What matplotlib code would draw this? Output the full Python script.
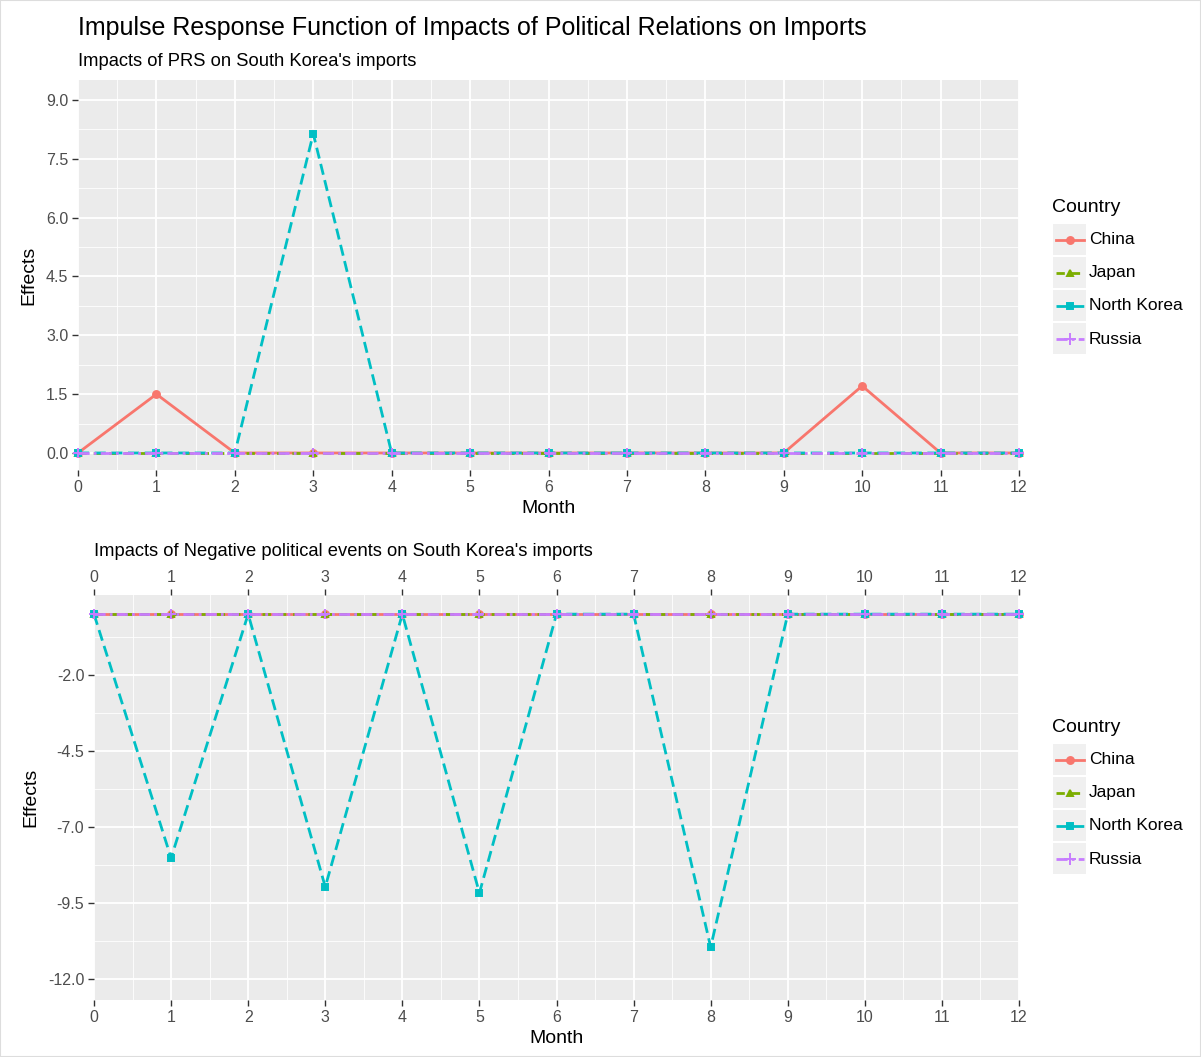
import matplotlib
matplotlib.use("Agg")
import matplotlib.pyplot as plt
from matplotlib.patches import Rectangle
from matplotlib.lines import Line2D
import numpy as np

plt.rcParams['font.family'] = ['Liberation Sans', 'DejaVu Sans']

months = list(range(13))
countries = ["China", "Japan", "North Korea", "Russia"]

# effects of PRS (top panel)
prs_china = [0, 1.5, 0, 0, 0, 0, 0, 0, 0, 0, 1.71, 0, 0]
prs_japan = [0] * 13
prs_nkorea = [0, 0, 0, 8.14, 0, 0, 0, 0, 0, 0, 0, 0, 0]
prs_russia = [0] * 13

# effects of negative political events (bottom panel)
neg_china = [0] * 13
neg_japan = [0] * 13
neg_nkorea = [0, -8.02, 0, -8.97, 0, -9.17, 0, 0, -10.95, 0, 0, 0, 0]
neg_russia = [0] * 13

top_ticks = [0.0, 1.5, 3.0, 4.5, 6.0, 7.5, 9.0]
bot_ticks = [-12.0, -9.5, -7.0, -4.5, -2.0]

colors = {"China": "#F8766D", "Japan": "#7CAE00", "North Korea": "#00BFC4", "Russia": "#C77CFF"}
styles = {"China": "-", "Japan": (0, (3, 2.5)), "North Korea": (0, (4, 2)), "Russia": (0, (4, 1.5, 1, 1.5))}
markers = {"China": "o", "Japan": "^", "North Korea": "s", "Russia": "+"}

GREY_BG = "#EBEBEB"
TXT = "#4D4D4D"

fig = plt.figure(figsize=(12.01, 10.57), dpi=100)
W, H = 1201, 1057


def px_axes(l, t, r, b):
    return fig.add_axes([l / W, (H - b) / H, (r - l) / W, (b - t) / H])


def style_axes(ax, yticks, ylim, minor_y):
    ax.set_facecolor(GREY_BG)
    ax.set_xlim(0, 12)
    ax.set_ylim(*ylim)
    ax.set_xticks(months)
    ax.set_xticks(np.arange(0.5, 12, 1), minor=True)
    ax.set_yticks(yticks)
    ax.set_yticks(minor_y, minor=True)
    ax.set_yticklabels(["%.1f" % v for v in yticks])
    ax.grid(which="major", color="white", linewidth=1.3)
    ax.grid(which="minor", color="white", linewidth=0.6)
    ax.set_axisbelow(True)
    for s in ax.spines.values():
        s.set_visible(False)
    ax.tick_params(which="major", length=4, width=1, color="#333333", labelcolor=TXT, labelsize=11.5, pad=3)
    ax.tick_params(which="minor", length=0)


def draw_series(ax, data):
    for c in countries:
        ax.plot(months, data[c], color=colors[c], linestyle=styles[c], marker=markers[c],
                markersize=5 if markers[c] != "+" else 7, linewidth=2.0, markeredgewidth=1.4,
                clip_on=False, zorder=3)


def draw_legend(x, y):
    fig.text(x / W, 1 - y / H, "Country", fontsize=14, color="black", va="center", ha="left")
    lax = px_axes(x, y + 15, x + 35, y + 15 + 4 * 33)
    lax.set_xlim(0, 1)
    lax.set_ylim(4, 0)
    lax.axis("off")
    for i, c in enumerate(countries):
        lax.add_patch(Rectangle((0.03, i + 0.03), 0.94, 0.94, color="#F0F0F0", lw=0))
        lax.add_line(Line2D([0.1, 0.9], [i + 0.5, i + 0.5], color=colors[c], linestyle=styles[c], lw=2.0))
        lax.plot([0.5], [i + 0.5], marker=markers[c], color=colors[c],
                 markersize=5 if markers[c] != "+" else 8, markeredgewidth=1.4)
        fig.text((x + 37) / W, 1 - (y + 15 + 33 * i + 17) / H, c, fontsize=12.5, color="black",
                 va="center", ha="left")


# top panel
ax1 = px_axes(78, 80, 1019, 470)
style_axes(ax1, top_ticks, (-0.434, 9.51), np.arange(0.75, 9.5, 1.5))
draw_series(ax1, {"China": prs_china, "Japan": prs_japan, "North Korea": prs_nkorea, "Russia": prs_russia})
ax1.set_xlabel("Month", fontsize=14, labelpad=4)
ax1.set_ylabel("Effects", fontsize=14, labelpad=6)
draw_legend(1052, 208)

# bottom panel
ax2 = px_axes(94, 595, 1019, 1000)
style_axes(ax2, bot_ticks, (-12.69, 0.63), np.arange(-10.75, 0, 2.5))
draw_series(ax2, {"China": neg_china, "Japan": neg_japan, "North Korea": neg_nkorea, "Russia": neg_russia})
ax2.tick_params(axis="x", which="major", top=True, labeltop=True)
ax2.set_xlabel("Month", fontsize=14, labelpad=4)
ax2.set_ylabel("Effects", fontsize=14, labelpad=6)
draw_legend(1052, 728)

fig.text(78 / W, 1 - 28 / H, "Impulse Response Function of Impacts of Political Relations on Imports",
         fontsize=18, va="center", ha="left")
fig.text(78 / W, 1 - 62 / H, "Impacts of PRS on South Korea's imports", fontsize=13.2, va="center", ha="left")
fig.text(94 / W, 1 - 552 / H, "Impacts of Negative political events on South Korea's imports",
         fontsize=13.2, va="center", ha="left")

fig.add_artist(Rectangle((0, 0), 1, 1, transform=fig.transFigure, fill=False, edgecolor="#DDDDDD", lw=1.5))

fig.savefig("out.png", dpi=100)
